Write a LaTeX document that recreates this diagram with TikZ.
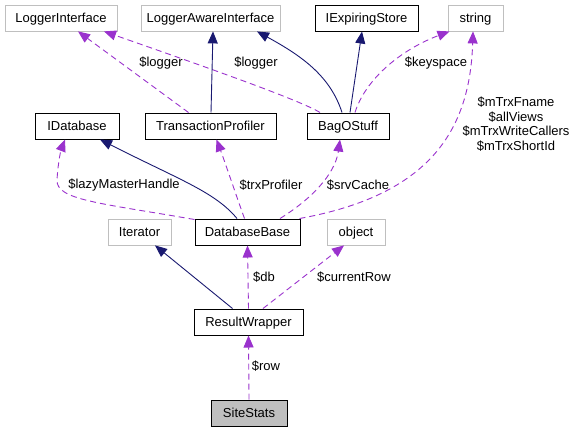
\documentclass[tikz,border=0pt]{standalone}
\usepackage{fontspec}
\setmainfont{Liberation Sans}
\usepackage{xcolor}
\usetikzlibrary{arrows.meta}

\definecolor{usepurple}{HTML}{9A32CD}
\definecolor{inhnavy}{HTML}{191970}
\definecolor{extgray}{HTML}{BFBFBF}

\begin{document}
\begin{tikzpicture}[x=1pt,y=-1pt,font=\fontsize{13}{14.5}\selectfont]
\tikzset{cls/.style={draw=black,line width=1pt,minimum height=26pt,inner sep=0pt,
                     text height=9.5pt,text depth=1.5pt},
         extcls/.style={cls,draw=extgray,line width=0.8pt},
         usedby/.style={color=usepurple,line width=0.9pt,dash pattern=on 6pt off 4pt,
                        -{Triangle[length=12pt,width=10pt]}},
         inherit/.style={color=inhnavy,line width=0.9pt,-{Triangle[length=12pt,width=10pt]}},
         elabel/.style={inner sep=0pt,align=center}}
\useasboundingbox (0,0) rectangle (575,432);
% Top row
\node[extcls,minimum width=112pt] (logif) at (61,18) {LoggerInterface};
\node[extcls,minimum width=139pt] (lai) at (210.5,18) {LoggerAwareInterface};
\node[cls,minimum width=103pt] (ies) at (366.5,18) {IExpiringStore};
\node[extcls,minimum width=55pt] (str) at (475.5,18) {string};
% Second row
\node[cls,minimum width=84pt] (idb) at (77,126) {IDatabase};
\node[cls,minimum width=131pt] (tp) at (210.5,126) {TransactionProfiler};
\node[cls,minimum width=82pt] (bag) at (348,126) {BagOStuff};
% Third row
\node[extcls,minimum width=63pt] (iter) at (139.5,232) {Iterator};
\node[cls,minimum width=105pt] (db) at (247.5,232) {DatabaseBase};
\node[extcls,minimum width=58pt] (obj) at (356,232) {object};
% Bottom
\node[cls,minimum width=109pt] (rw) at (248.5,322) {ResultWrapper};
\node[cls,fill=extgray,minimum width=76pt] (site) at (249,413) {SiteStats};

% TransactionProfiler / BagOStuff -> top row
\draw[usedby] ([xshift=-22pt]tp.north) -- ([xshift=17pt]logif.south);
\draw[usedby] ([xshift=-28pt]bag.north) .. controls (300,100) and (200,65) .. ([xshift=43pt]logif.south);
\draw[inherit] ([xshift=0.5pt]tp.north) -- ([xshift=2.5pt]lai.south);
\draw[inherit] ([xshift=-6pt]bag.north) .. controls (330,75) and (300,55) .. ([xshift=46.5pt]lai.south);
\draw[inherit] ([xshift=2pt]bag.north) -- ([xshift=-4.5pt]ies.south);
\draw[usedby] ([xshift=7pt]bag.north) .. controls (365,80) and (400,50) .. ([xshift=-26pt]str.south);
\node[elabel] (lblogger) at (161,63) {\$logger};
\node[elabel] (lblogger2) at (256,63) {\$logger};
\node[elabel] (lbkeyspace) at (436,63) {\$keyspace};

% DatabaseBase -> second row and string
\draw[usedby] ([yshift=-1pt]db.north west) .. controls (100,203) and (56,200) .. (57,180)
  .. controls (58,162) and (61,150) .. ([xshift=-12pt]idb.south);
\draw[inherit] ([xshift=-10.5pt]db.north) .. controls (215,192) and (180,180) .. ([xshift=23pt]idb.south);
\draw[usedby] ([xshift=-3pt]db.north) .. controls (236,195) and (226,165) .. ([xshift=6pt]tp.south);
\draw[usedby] ([xshift=32.5pt]db.north) .. controls (310,200) and (335,175) .. ([xshift=-8pt]bag.south);
\draw[usedby] ([xshift=-1pt]db.north east) .. controls (430,195) and (470,130) .. ([xshift=-2.5pt]str.south);
\node[elabel] (lblazy) at (124,185) {\$lazyMasterHandle};
\node[elabel] (lbtrx) at (271,185) {\$trxProfiler};
\node[elabel] (lbsrv) at (358,185) {\$srvCache};
\node[elabel] (lbmtrx) at (516,124) {\$mTrxFname\\\$allViews\\\$mTrxWriteCallers\\\$mTrxShortId};

% ResultWrapper
\draw[inherit] ([xshift=-16pt]rw.north) -- ([xshift=15.5pt]iter.south);
\draw[usedby] (rw.north) -- (db.south);
\draw[usedby] ([xshift=14.5pt]rw.north) -- ([xshift=-12pt]obj.south);
\node[elabel] (lbdb) at (264,277) {\$db};
\node[elabel] (lbrow) at (354,277) {\$currentRow};

% SiteStats
\draw[usedby] (site.north) -- (rw.south);
\node[elabel] (lbrowvar) at (266,366) {\$row};
\end{tikzpicture}
\end{document}
